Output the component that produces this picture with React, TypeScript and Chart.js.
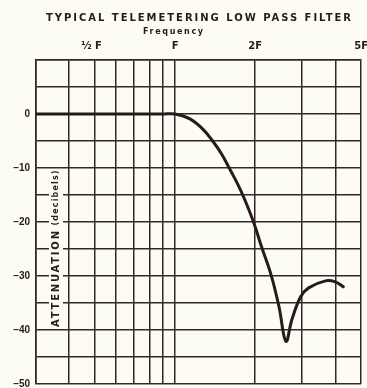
import React, { useEffect, useRef } from "react";
import { Chart, registerables } from "chart.js";

Chart.register(...registerables);

// ---- data (frequency as a multiple of the cut-off F, attenuation in dB) ----
const frequencyRatio = [0.3, 0.6, 0.9, 1.0, 1.137, 1.271, 1.384, 1.495, 1.601, 1.715, 1.821, 1.984, 2.106, 2.294, 2.457, 2.609, 2.746, 2.966, 3.176, 3.674, 4.002, 4.285];
const attenuationDb = [0, 0, 0, 0, -0.9, -2.8, -5.0, -7.4, -10.1, -12.9, -15.7, -20.4, -24.4, -29.8, -35.7, -42.1, -38.1, -33.8, -32.2, -30.9, -31.1, -32.0];

const xGridRatios = [0.3, 0.4, 0.5, 0.6, 0.7, 0.8, 0.9, 1, 2, 3, 4, 5];
const xTickValues = [0.5, 1, 2, 5];
const xTickLabels = ["½ F  ", "F", "2F", "5F"];
const yLabelledValues = [0, -10, -20, -30, -40, -50];
const yLabelTexts = ["0", "–10", "–20", "–30", "–40", "–50"];

const TITLE = "TYPICAL TELEMETERING LOW PASS FILTER";
const X_TITLE = "Frequency";
const Y_TITLE_MAIN = "ATTENUATION";
const Y_TITLE_UNIT = "(decibels)";

const INK = "#261b1b";
const GRID = "#342626";
const PAPER = "#fcfcf5";
const FONT = "'DejaVu Sans', 'Liberation Sans', Arial, sans-serif";
const FONT2 = "'Liberation Sans', Arial, sans-serif";

function drawSpaced(ctx: CanvasRenderingContext2D, text: string, cx: number, cy: number, font: string, target: number) {
  ctx.font = font;
  (ctx as any).letterSpacing = "0px";
  const w = ctx.measureText(text).width;
  const ls = Math.max(0, (target - w) / Math.max(1, text.length - 1));
  (ctx as any).letterSpacing = ls + "px";
  ctx.textAlign = "left";
  ctx.textBaseline = "middle";
  ctx.fillText(text, cx - target / 2, cy);
  (ctx as any).letterSpacing = "0px";
}

const decorPlugin = {
  id: "decor",
  beforeDraw(chart: any) {
    const { ctx, width, height } = chart;
    ctx.save();
    ctx.fillStyle = PAPER;
    ctx.fillRect(0, 0, width, height);
    ctx.restore();
  },
  afterDraw(chart: any) {
    const { ctx, chartArea } = chart;
    const yScale = chart.scales.y;
    ctx.save();
    ctx.fillStyle = INK;
    const cx = (chartArea.left + chartArea.right) / 2;
    drawSpaced(ctx, TITLE, cx, 18, `bold 10px ${FONT}`, 305);
    drawSpaced(ctx, X_TITLE, 173, 32, `bold 8px ${FONT}`, 60);

    // rotated y-axis title inside the plot, on a paper-coloured patch
    const xMid = chartArea.left + 20;
    const yTop = yScale.getPixelForValue(-10.5);
    const yBot = yScale.getPixelForValue(-39.8);
    ctx.fillStyle = PAPER;
    ctx.fillRect(xMid - 7, yTop, 14, yBot - yTop);
    ctx.fillStyle = INK;
    ctx.translate(xMid, 0);
    ctx.rotate(-Math.PI / 2);
    drawSpaced(ctx, Y_TITLE_MAIN, -279, 0, `bold 10px ${FONT}`, 96);
    drawSpaced(ctx, Y_TITLE_UNIT, -198, 0, `bold 8px ${FONT}`, 55);
    ctx.restore();
  },
};

export default function App() {
  const ref = useRef<HTMLCanvasElement | null>(null);

  useEffect(() => {
    if (!ref.current) return;
    const chart = new Chart(ref.current, {
      type: "line",
      data: {
        datasets: [
          {
            data: frequencyRatio.map((f, i) => ({ x: f, y: attenuationDb[i] })),
            borderColor: INK,
            borderWidth: 3,
            pointRadius: 0,
            tension: 0.4,
            fill: false,
            borderJoinStyle: "round",
            borderCapStyle: "round",
          },
        ],
      },
      options: {
        responsive: false,
        maintainAspectRatio: false,
        animation: false,
        events: [],
        layout: { padding: { left: 0, right: 13, top: 0, bottom: 11 } },
        plugins: {
          legend: { display: false },
          tooltip: { enabled: false },
          title: { display: false },
        },
        scales: {
          x: {
            type: "logarithmic",
            position: "top",
            min: 0.3,
            max: 5,
            afterBuildTicks: (s: any) => {
              s.ticks = xGridRatios.map((v) => ({ value: v }));
            },
            afterFit: (s: any) => {
              s.height = 60;
            },
            grid: { color: GRID, lineWidth: 1.5, drawTicks: false },
            border: { color: GRID, width: 1.6 },
            ticks: {
              autoSkip: false,
              maxRotation: 0,
              minRotation: 0,
              padding: 8,
              color: INK,
              font: { family: FONT, weight: "bold", size: 10 },
              callback: (v: any) => {
                const i = xTickValues.findIndex((t) => Math.abs(t - Number(v)) < 1e-6);
                return i >= 0 ? xTickLabels[i] : "";
              },
            },
          },
          y: {
            type: "linear",
            min: -50,
            max: 10,
            afterFit: (s: any) => {
              s.width = 36;
            },
            grid: { color: GRID, lineWidth: 1.5, drawTicks: false },
            border: { color: GRID, width: 1.6 },
            ticks: {
              stepSize: 5,
              padding: 6,
              color: INK,
              font: { family: FONT2, weight: "bold", size: 10 },
              callback: (v: any) => {
                const i = yLabelledValues.indexOf(Number(v));
                return i >= 0 ? yLabelTexts[i] : "";
              },
            },
          },
        },
      },
      plugins: [decorPlugin],
    } as any);
    return () => chart.destroy();
  }, []);

  return (
    <div
      style={{
        position: "fixed",
        left: 0,
        top: 0,
        width: 367,
        height: 388,
        overflow: "hidden",
        background: PAPER,
      }}
    >
      <canvas ref={ref} width={376} height={396} style={{ width: 376, height: 396, display: "block" }} />
    </div>
  );
}
